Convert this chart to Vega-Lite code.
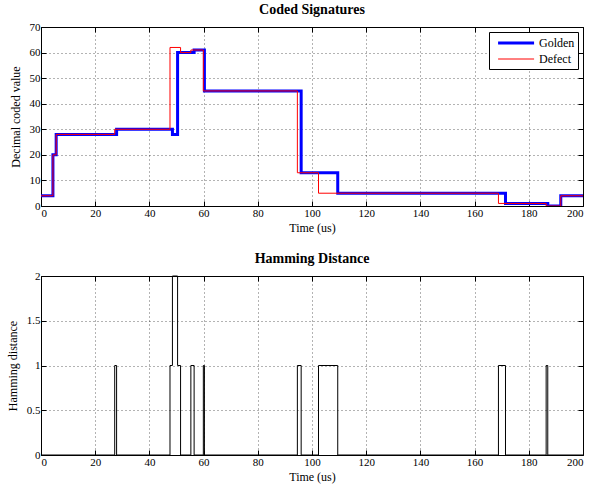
{
  "$schema": "https://vega.github.io/schema/vega-lite/v6.json",
  "background": "white",
  "padding": {"left": 5, "top": 2, "right": 5, "bottom": 2},
  "bounds": "flush",
  "spacing": 70,
  "config": {
    "font": "'Liberation Serif', 'Times New Roman', Times, serif",
    "view": {"stroke": "#000", "strokeWidth": 1},
    "axis": {
      "labelFont": "'Liberation Serif', 'Times New Roman', Times, serif", "labelFontSize": 11, "labelColor": "#000",
      "titleFont": "'Liberation Serif', 'Times New Roman', Times, serif", "titleFontSize": 12, "titleFontWeight": "normal", "titleColor": "#000",
      "domain": false, "tickColor": "#000", "tickSize": -5, "labelPadding": 6,
      "grid": true, "gridColor": "#000", "gridDash": [1, 3], "gridOpacity": 0.6, "titlePadding": 4
    },
    "axisY": {"titlePadding": 7},
    "legend": {
      "orient": "top-right", "offset": 5, "strokeColor": "#000", "fillColor": "#fff", "padding": 3.5,
      "labelFont": "'Liberation Serif', 'Times New Roman', Times, serif", "labelFontSize": 12, "labelColor": "#000",
      "symbolType": "M-0.32,0H5.68", "symbolSize": 144, "labelOffset": 31.5, "rowPadding": 3, "cornerRadius": 0
    },
    "title": {"font": "'Liberation Serif', 'Times New Roman', Times, serif", "fontSize": 14, "fontWeight": "bold", "color": "#000", "frame": "group", "baseline": "alphabetic", "offset": 4}
  },
  "datasets": {
    "sig": [
      {"t": 0, "v": 4, "s": "Golden"}, {"t": 4.4, "v": 20, "s": "Golden"}, {"t": 5.6, "v": 28, "s": "Golden"},
      {"t": 27.9, "v": 30, "s": "Golden"}, {"t": 48.5, "v": 28, "s": "Golden"}, {"t": 50.4, "v": 60, "s": "Golden"},
      {"t": 56.5, "v": 61, "s": "Golden"}, {"t": 60.3, "v": 45, "s": "Golden"}, {"t": 96.0, "v": 13, "s": "Golden"},
      {"t": 109.5, "v": 5, "s": "Golden"}, {"t": 171.4, "v": 1, "s": "Golden"}, {"t": 187.0, "v": 0, "s": "Golden"},
      {"t": 191.8, "v": 4, "s": "Golden"}, {"t": 200, "v": 4, "s": "Golden"},
      {"t": 0, "v": 4, "s": "Defect"}, {"t": 4.4, "v": 20, "s": "Defect"}, {"t": 5.6, "v": 28, "s": "Defect"},
      {"t": 27.2, "v": 30, "s": "Defect"}, {"t": 47.6, "v": 62, "s": "Defect"}, {"t": 51.5, "v": 60, "s": "Defect"},
      {"t": 55.3, "v": 61, "s": "Defect"}, {"t": 59.9, "v": 45, "s": "Defect"}, {"t": 94.6, "v": 13, "s": "Defect"},
      {"t": 102.4, "v": 5, "s": "Defect"}, {"t": 168.8, "v": 1, "s": "Defect"}, {"t": 186.4, "v": 0, "s": "Defect"},
      {"t": 191.8, "v": 4, "s": "Defect"}, {"t": 200, "v": 4, "s": "Defect"}
    ],
    "ham": [
      {"t": 0, "d": 0}, {"t": 27.2, "d": 1}, {"t": 27.9, "d": 0}, {"t": 47.6, "d": 1}, {"t": 48.5, "d": 2},
      {"t": 50.4, "d": 1}, {"t": 51.5, "d": 0}, {"t": 55.3, "d": 1}, {"t": 56.5, "d": 0}, {"t": 59.9, "d": 1},
      {"t": 60.3, "d": 0}, {"t": 94.6, "d": 1}, {"t": 96.0, "d": 0}, {"t": 102.4, "d": 1}, {"t": 109.5, "d": 0},
      {"t": 168.8, "d": 1}, {"t": 171.4, "d": 0}, {"t": 186.4, "d": 1}, {"t": 187.0, "d": 0}, {"t": 200, "d": 0}
    ]
  },
  "vconcat": [
    {
      "width": 542, "height": 179,
      "title": {"text": "Coded Signatures"},
      "data": {"name": "sig"},
      "layer": [
        {
          "mark": {"type": "line", "interpolate": "step-after", "clip": true},
          "encoding": {
            "x": {"field": "t", "type": "quantitative", "scale": {"domain": [0, 200], "nice": false},
                  "axis": {"title": "Time (us)", "values": [0, 20, 40, 60, 80, 100, 120, 140, 160, 180, 200]}},
            "y": {"field": "v", "type": "quantitative", "scale": {"domain": [0, 70], "nice": false},
                  "axis": {"title": "Decimal coded value", "values": [0, 10, 20, 30, 40, 50, 60, 70]}},
            "color": {"field": "s", "type": "nominal", "scale": {"domain": ["Golden", "Defect"], "range": ["#0000ff", "#ff0000"]}, "legend": {"title": null}},
            "strokeWidth": {"field": "s", "type": "nominal", "scale": {"domain": ["Golden", "Defect"], "range": [3, 1]}, "legend": {"title": null}}
          }
        },
        {
          "mark": {"type": "line", "opacity": 0},
          "encoding": {
            "x": {"field": "t", "type": "quantitative",
                  "axis": {"orient": "top", "labels": false, "grid": false, "title": null, "values": [0, 20, 40, 60, 80, 100, 120, 140, 160, 180, 200]}},
            "y": {"field": "v", "type": "quantitative",
                  "axis": {"orient": "right", "labels": false, "grid": false, "title": null, "values": [0, 10, 20, 30, 40, 50, 60, 70]}}
          }
        }
      ],
      "resolve": {"axis": {"x": "independent", "y": "independent"}}
    },
    {
      "width": 542, "height": 179,
      "title": {"text": "Hamming Distance"},
      "data": {"name": "ham"},
      "layer": [
        {
          "mark": {"type": "line", "interpolate": "step-after", "color": "#000", "strokeWidth": 1},
          "encoding": {
            "x": {"field": "t", "type": "quantitative", "scale": {"domain": [0, 200], "nice": false},
                  "axis": {"title": "Time (us)", "values": [0, 20, 40, 60, 80, 100, 120, 140, 160, 180, 200]}},
            "y": {"field": "d", "type": "quantitative", "scale": {"domain": [0, 2], "nice": false},
                  "axis": {"title": "Hamming distance", "values": [0, 0.5, 1, 1.5, 2], "format": "~g"}}
          }
        },
        {
          "mark": {"type": "line", "opacity": 0},
          "encoding": {
            "x": {"field": "t", "type": "quantitative",
                  "axis": {"orient": "top", "labels": false, "grid": false, "title": null, "values": [0, 20, 40, 60, 80, 100, 120, 140, 160, 180, 200]}},
            "y": {"field": "d", "type": "quantitative",
                  "axis": {"orient": "right", "labels": false, "grid": false, "title": null, "values": [0, 0.5, 1, 1.5, 2]}}
          }
        }
      ],
      "resolve": {"axis": {"x": "independent", "y": "independent"}}
    }
  ]
}
